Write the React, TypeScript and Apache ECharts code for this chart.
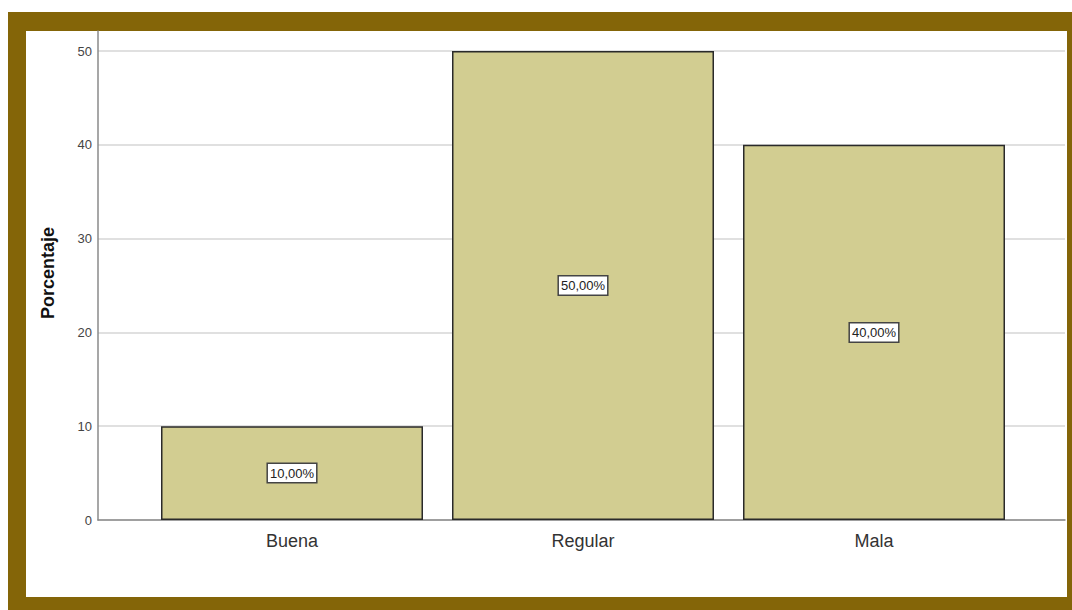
import React, { useEffect, useRef } from "react";
import * as echarts from "echarts";

const categories = ["Buena", "Regular", "Mala"];
const percentages = [10, 50, 40];
const yTicks = [0, 10, 20, 30, 40, 50];
const yAxisName = "Porcentaje";

export default function App() {
  const ref = useRef<HTMLDivElement>(null);
  useEffect(() => {
    if (!ref.current) return;
    const chart = echarts.init(ref.current, null, { renderer: "svg" });
    const yMin = yTicks[0];
    const yMax = yTicks[yTicks.length - 1];
    const yInterval = yTicks[1] - yTicks[0];
    const font = "Liberation Sans, Arial, sans-serif";
    chart.setOption({
      animation: false,
      backgroundColor: "#ffffff",
      graphic: [
        { type: "rect", z: -10, shape: { x: 8, y: 12, width: 1064, height: 598 }, style: { fill: "#846508" }, silent: true },
        { type: "rect", z: -9, shape: { x: 26, y: 31, width: 1041, height: 566 }, style: { fill: "#ffffff" }, silent: true },
        {
          type: "text",
          x: 48,
          y: 273,
          rotation: Math.PI / 2,
          style: {
            text: yAxisName,
            fontSize: 18,
            fontWeight: "bold",
            fontFamily: font,
            fill: "#111",
            align: "center",
            verticalAlign: "middle",
          },
        },
      ],
      grid: [
        { left: 98, top: 51, width: 967, bottom: 90 },
        { left: 146.5, top: 51, width: 873, bottom: 90 },
        { left: 98, top: 31, width: 967, bottom: 90 },
      ],
      xAxis: [
        {
          gridIndex: 0,
          type: "value",
          min: 0,
          max: 1,
          axisLine: { show: true, lineStyle: { color: "#8a8a8a", width: 1.5 } },
          axisTick: { show: false },
          axisLabel: { show: false },
          splitLine: { show: false },
        },
        {
          gridIndex: 1,
          type: "category",
          data: categories,
          axisLine: { show: false },
          axisTick: { show: false },
          axisLabel: { color: "#333", fontSize: 18, fontFamily: font, margin: 12 },
          splitLine: { show: false },
        },
        {
          gridIndex: 2,
          type: "value",
          show: false,
        },
      ],
      yAxis: [
        {
          gridIndex: 0,
          type: "value",
          min: yMin,
          max: yMax,
          interval: yInterval,
          axisLine: { show: false },
          axisTick: { show: false },
          axisLabel: { color: "#444", fontSize: 13, fontFamily: font, margin: 6 },
          splitLine: { show: true, lineStyle: { color: "#d6d6d6", width: 1.5 } },
        },
        {
          gridIndex: 1,
          type: "value",
          min: yMin,
          max: yMax,
          interval: yInterval,
          show: false,
        },
        {
          gridIndex: 2,
          type: "value",
          min: 0,
          max: 1,
          axisLine: { show: true, lineStyle: { color: "#8a8a8a", width: 1.5 } },
          axisTick: { show: false },
          axisLabel: { show: false },
          splitLine: { show: false },
        },
      ],
      series: [
        {
          type: "bar",
          xAxisIndex: 1,
          yAxisIndex: 1,
          data: percentages,
          barWidth: 262,
          itemStyle: { color: "#d2cd91", borderColor: "#2a2a2a", borderWidth: 1.5 },
          label: {
            show: true,
            position: "inside",
            formatter: (p: any) => p.value.toFixed(2).replace(".", ",") + "%",
            color: "#222",
            fontSize: 13,
            fontFamily: font,
            backgroundColor: "#ffffff",
            borderColor: "#444",
            borderWidth: 1.5,
            padding: [3, 2, 2, 2],
          },
        },
      ],
    });
    return () => chart.dispose();
  }, []);
  return (
    <div
      ref={ref}
      style={{ position: "absolute", left: 0, top: 0, width: 1072, height: 610 }}
    />
  );
}
